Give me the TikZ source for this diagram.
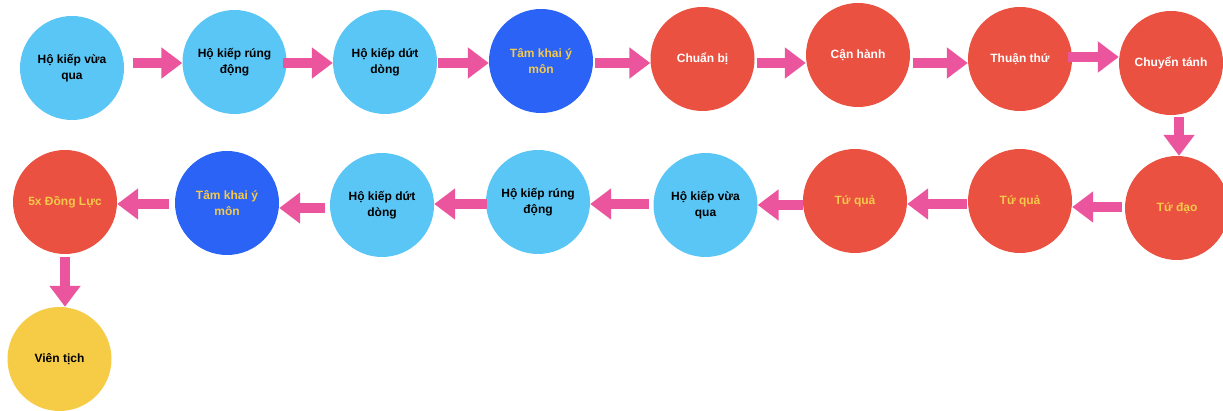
\documentclass[tikz,border=0pt]{standalone}
\usepackage{fontspec}
\setmainfont{Liberation Sans}
\usetikzlibrary{arrows.meta}
\definecolor{cLight}{HTML}{5AC6F6}
\definecolor{cBlue}{HTML}{2A63F5}
\definecolor{cRed}{HTML}{EA5140}
\definecolor{cGold}{HTML}{F6CC47}
\definecolor{cTxtY}{HTML}{F5C94A}
\definecolor{cPink}{HTML}{EA559E}
\tikzset{
  circ/.style={circle, minimum size=104pt, inner sep=0pt, align=center,
    font=\fontsize{12}{15.5}\selectfont\bfseries},
  light/.style={circ, fill=cLight, text=black},
  blue/.style={circ, fill=cBlue, text=cTxtY},
  redw/.style={circ, fill=cRed, text=white},
  redy/.style={circ, fill=cRed, text=cTxtY},
  gold/.style={circ, fill=cGold, text=black},
  arr/.style={draw=cPink, line width=10pt, -{Triangle[width=30pt,length=21pt]}}
}
\begin{document}
\begin{tikzpicture}[x=1pt,y=-1pt]
\useasboundingbox (0,0) rectangle (1223,411);
% row 1
\node[light] (n1) at (72,68) {Hộ kiếp vừa\\qua};
\node[light] (n2) at (234.5,62) {Hộ kiếp rúng\\động};
\node[light] (n3) at (385,62) {Hộ kiếp dứt\\dòng};
\node[blue]  (n4) at (541,61) {Tâm khai ý\\môn};
\node[redw]  (n5) at (702.5,59) {Chuẩn bị};
\node[redw]  (n6) at (858,55) {Cận hành};
\node[redw]  (n7) at (1020,59) {Thuận thứ};
\node[redw]  (n8) at (1171,63) {Chuyển tánh};
% row 2
\node[redy]  (m1) at (1177,208) {Tứ đạo};
\node[redy]  (m2) at (1020,201) {Tứ quả};
\node[redy]  (m3) at (855,201) {Tứ quả};
\node[light] (m4) at (705.5,205) {Hộ kiếp vừa\\qua};
\node[light] (m5) at (538,202) {Hộ kiếp rúng\\động};
\node[light] (m6) at (382,205) {Hộ kiếp dứt\\dòng};
\node[blue]  (m7) at (227,203) {Tâm khai ý\\môn};
\node[redy]  (m8) at (65,202) {5x Đồng Lực};
\node[gold]  (v)  at (59.5,359) {Viên tịch};
% arrow start points
\coordinate (a1) at (133,63);
\coordinate (a2) at (283,63);
\coordinate (a3) at (438,63);
\coordinate (a4) at (595,63);
\coordinate (a5) at (757,63);
\coordinate (a6) at (913,63);
\coordinate (a7) at (1068,57);
\coordinate (a8) at (1179,117);
\coordinate (b1) at (1122,207);
\coordinate (b2) at (967,204);
\coordinate (b3) at (803,205);
\coordinate (b4) at (649,204);
\coordinate (b5) at (487,204);
\coordinate (b6) at (325,208);
\coordinate (b7) at (169,204);
\coordinate (b8) at (65,257);
% arrows
\draw[arr] (a1) -- (a1 -| n2.west);
\draw[arr] (a2) -- (a2 -| n3.west);
\draw[arr] (a3) -- (a3 -| n4.west);
\draw[arr] (a4) -- (a4 -| n5.west);
\draw[arr] (a5) -- (a5 -| n6.west);
\draw[arr] (a6) -- (a6 -| n7.west);
\draw[arr] (a7) -- (a7 -| n8.west);
\draw[arr] (a8) -- (a8 |- m1.north);
\draw[arr] (b1) -- (b1 -| m2.east);
\draw[arr] (b2) -- (b2 -| m3.east);
\draw[arr] (b3) -- (b3 -| m4.east);
\draw[arr] (b4) -- (b4 -| m5.east);
\draw[arr] (b5) -- (b5 -| m6.east);
\draw[arr] (b6) -- (b6 -| m7.east);
\draw[arr] (b7) -- (b7 -| m8.east);
\draw[arr] (b8) -- (b8 |- v.north);
\end{tikzpicture}
\end{document}
